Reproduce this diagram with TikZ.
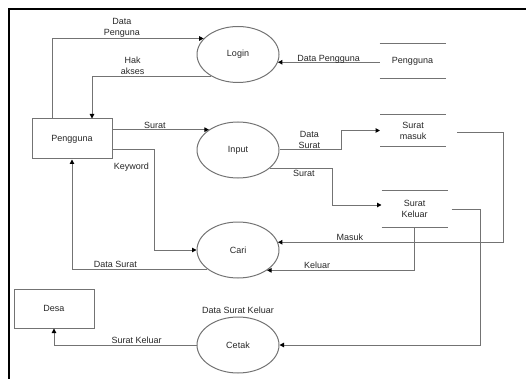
\documentclass[tikz,border=0pt]{standalone}
\usepackage{fontspec}
\setmainfont{Liberation Sans}
\usetikzlibrary{arrows.meta,shapes.geometric}

\begin{document}
\begin{tikzpicture}[x=1pt, y=-1pt, line width=1pt, font=\fontsize{9}{11}\selectfont,
proc_style/.style={ellipse,draw=black!55,minimum width=82pt,minimum height=56pt,inner sep=0pt,text=black!85},
entity_style/.style={rectangle,draw=black!55,minimum width=80pt,minimum height=40pt,text=black!85},
store_style/.style={rectangle,minimum width=65pt,minimum height=34pt,align=center,text=black!85},
flow_style/.style={draw=black!55,-{Triangle[length=4.5pt,width=4.5pt,color=black]}},
line_style/.style={draw=black!55},
label_style/.style={align=center,inner sep=1pt,text=black!85}]
\useasboundingbox (0,0) rectangle (526,379);
\draw[line width=2pt] (9,379) -- (9,9) -- (526,9);
% processes
\node[proc_style] (login) at (238,54.5) {Login};
\node[proc_style] (input) at (238,150) {Input};
\node[proc_style] (cari) at (238,250) {Cari};
\node[proc_style] (cetak) at (238,345) {Cetak};
% entities
\node[entity_style] (pengguna) at (72,139) {Pengguna};
\node[entity_style,minimum height=39pt] (desa) at (54,308.5) {Desa};
% data stores
\node[store_style] (dbuser) at (412.5,61) {Pengguna};
\node[store_style,minimum height=31pt] (dbmasuk) at (413,130.5) {Surat\\masuk};
\node[store_style,minimum height=36pt] (dbkeluar) at (414.5,209) {Surat\\Keluar};
\draw[line_style] (dbuser.north west) -- (dbuser.north east) (dbuser.south west) -- (dbuser.south east);
\draw[line_style] (dbmasuk.north west) -- (dbmasuk.north east) (dbmasuk.south west) -- (dbmasuk.south east);
\draw[line_style] (dbkeluar.north west) -- (dbkeluar.north east) (dbkeluar.south west) -- (dbkeluar.south east);
% flows
\draw[flow_style] ([xshift=-20pt]pengguna.north) |- node[label_style,above,pos=0.73] (l_datapenguna) {Data\\Penguna} (login.155);
\draw[flow_style] (login.219) -| node[label_style,above,pos=0.33] (l_hakakses) {Hak\\akses} ([xshift=20pt]pengguna.north);
\draw[flow_style] (dbuser.west |- login.349) -- node[label_style,above,yshift=-3pt,pos=0.5] (l_datapengguna) {Data Pengguna} (login.349);
\draw[flow_style] (pengguna.east |- input.145) -- node[label_style,above,pos=0.44] (l_surat) {Surat} (input.145);
\draw[flow_style] ([yshift=-11pt]pengguna.east) -- node[label_style,below=11pt,pos=0.45] (l_keyword) {Keyword} ++(42,0) |- (cari.west);
\draw[flow_style] (cari.212) -| node[label_style,above,pos=0.34] (l_datasurat) {Data Surat} (pengguna.south);
\draw[flow_style] (input.east) -- node[label_style,above,pos=0.48] (l_datasuratin) {Data\\Surat} ++(62,0) |- (dbmasuk.west);
\draw[flow_style] (input.330) -- node[label_style,below,pos=0.54] (l_suratkeluar) {Surat} ++(63,0) |- ([yshift=4pt]dbkeluar.west);
\draw[flow_style] ([xshift=11pt,yshift=-2.5pt]dbmasuk.east) -- ++(46,0) |- node[label_style,above,pos=0.84] (l_masuk) {Masuk} (cari.11.5);
\draw[flow_style] (dbkeluar.south) |- node[label_style,above,pos=0.83] (l_keluar) {Keluar} (cari.325);
\draw[flow_style] ([xshift=4pt]dbkeluar.east) -- ++(29,0) |- (cetak.east);
\node[label_style,above=1pt] (l_datasuratkeluar) at (cetak.north) {Data Surat Keluar};
\draw[flow_style] (cetak.west) -| node[label_style,above,pos=0.21] (l_cetakdesa) {Surat Keluar} (desa.south);
\end{tikzpicture}
\end{document}
